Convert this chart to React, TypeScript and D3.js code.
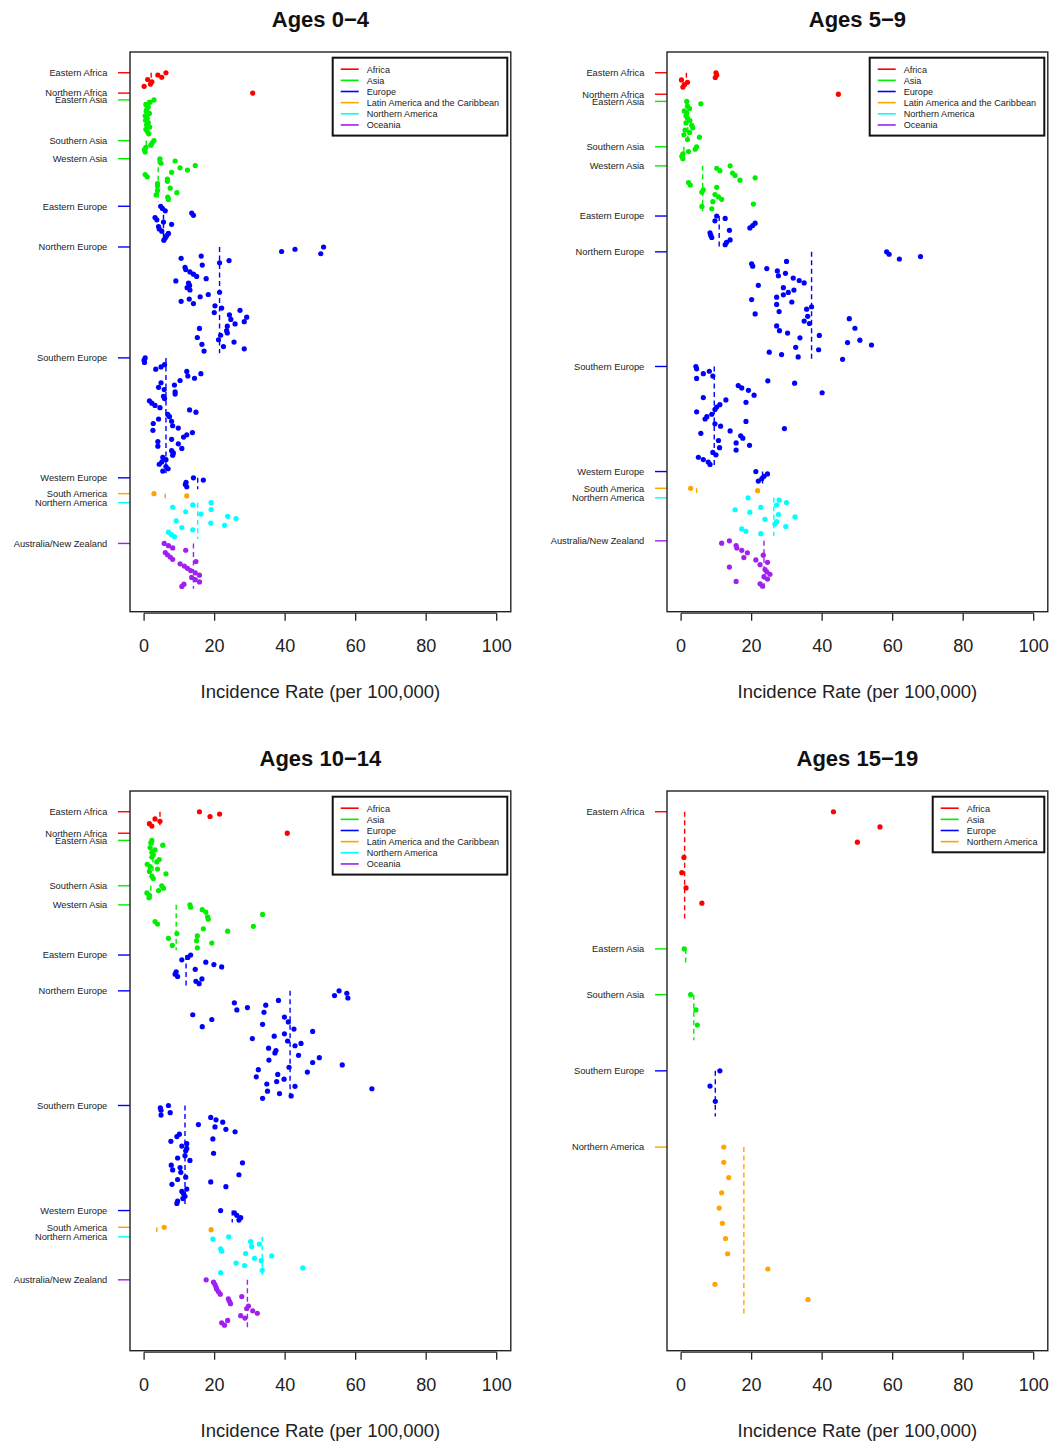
import * as d3 from "d3";

// regions in plotting order (top to bottom) and the continent each belongs to
const REGIONS = [
  "Eastern Africa", "Northern Africa", "Eastern Asia", "Southern Asia", "Western Asia",
  "Eastern Europe", "Northern Europe", "Southern Europe", "Western Europe",
  "South America", "Northern America", "Australia/New Zealand",
];
const CONTINENT_OF = [
  "Africa", "Africa", "Asia", "Asia", "Asia", "Europe", "Europe", "Europe", "Europe",
  "Latin America and the Caribbean", "Northern America", "Oceania",
];
const REGIONS_15_19 = ["Eastern Africa", "Eastern Asia", "Southern Asia", "Southern Europe", "Northern America"];
const CONTINENT_OF_15_19 = ["Africa", "Asia", "Asia", "Europe", "Northern America"];

const LEGEND_ALL = ["Africa", "Asia", "Europe", "Latin America and the Caribbean", "Northern America", "Oceania"];
const PALETTE_ALL = ["#FF0000", "#00EE00", "#0000FF", "#FFA500", "#00FFFF", "#A020F0"];
const LEGEND_15_19 = ["Africa", "Asia", "Europe", "Northern America"];
const PALETTE_15_19 = ["#FF0000", "#00EE00", "#0000FF", "#FFA500"];

const X_TICKS = [0, 20, 40, 60, 80, 100];

// incidence rate per registry, per region (top to bottom)
const rates0to4 = [
  [6.2, 3.9, 5.0, 1.0, 2.2, 1.8, 0.0],
  [30.8],
  [2.8, 1.7, 0.5, 1.2, 0.8, 0.6, 1.5, 0.3, 0.9, 0.4, 1.2, 0.7, 1.6, 0.5, 0.9, 1.3],
  [2.8, 2.3, 1.9, 0.5, 0.1, 0.3],
  [4.5, 8.8, 4.8, 14.5, 10.2, 12.3, 7.8, 0.3, 0.9, 6.6, 6.6, 3.8, 3.8, 7.4, 3.8, 9.3, 3.4, 6.7, 6.9],
  [4.7, 5.2, 6.0, 13.5, 14.0, 3.1, 3.6, 5.5, 7.8, 4.1, 4.3, 5.0, 6.9, 6.4, 6.0, 5.6],
  [50.9, 42.8, 39.0, 50.1, 16.2, 10.5, 24.1, 21.4, 16.5, 11.6, 11.8, 13.0, 14.0, 14.9, 17.6, 9.0,
    12.6, 12.9, 12.2, 13.0, 21.4, 18.2, 15.9, 12.8, 10.5, 14.0, 20.1, 22.0, 27.2, 19.9, 24.2, 29.1,
    24.6, 28.4, 25.8, 23.6, 15.7, 23.4, 23.6, 21.7, 15.1, 21.1, 25.5, 16.4, 22.5, 28.4, 17.0],
  [0.3, 0.0, 0.1, 5.8, 4.8, 3.3, 12.1, 16.1, 12.4, 14.3, 10.2, 4.8, 8.6, 4.1, 5.7, 8.8, 8.8, 5.5,
    5.8, 1.5, 2.2, 3.1, 4.5, 12.9, 14.7, 6.7, 7.2, 4.1, 7.8, 2.6, 8.1, 9.7, 2.5, 13.7, 12.1, 11.2,
    7.8, 3.9, 9.7, 3.9, 10.7, 7.8, 8.3, 8.1, 5.3, 6.2, 5.0, 4.3, 6.2, 6.8, 5.3],
  [14.0, 16.8, 11.9, 11.7, 12.1],
  [2.8, 12.1],
  [19.0, 13.8, 8.1, 19.0, 11.8, 16.1, 23.7, 26.1, 9.1, 18.9, 22.8, 10.7, 13.8, 6.9, 7.7, 8.6],
  [5.7, 6.9, 8.1, 11.8, 6.0, 6.6, 7.4, 8.1, 14.7, 10.2, 11.4, 12.3, 13.2, 14.5, 15.7, 13.5, 14.5, 15.7, 11.3, 10.7],
];
const pooled0to4 = [2.0, 30.8, 1.1, 0.6, 4.0, 5.5, 21.4, 6.2, 15.2, 6.0, 15.2, 14.0];

const rates5to9 = [
  [9.9, 10.1, 9.7, 0.1, 1.8, 0.9, 0.5],
  [44.6],
  [1.6, 5.6, 1.8, 2.4, 0.9, 1.6, 1.4, 1.8, 2.5, 1.4, 3.0, 3.3, 1.1, 2.4, 0.8, 5.2, 1.8],
  [4.4, 4.0, 2.1, 0.5, 0.2, 0.5],
  [13.9, 10.1, 11.0, 14.6, 15.3, 21.0, 16.7, 2.1, 2.6, 10.1, 6.3, 5.9, 9.6, 10.6, 11.5, 9.0, 20.5, 5.9, 8.7],
  [10.1, 12.5, 9.6, 21.0, 20.3, 19.5, 13.7, 8.2, 8.4, 8.7, 13.9, 12.9, 12.5],
  [58.3, 59.0, 67.9, 61.9, 29.9, 20.0, 20.3, 24.3, 27.3, 29.6, 27.6, 31.8, 33.5, 34.9, 21.9, 29.0,
    32.0, 30.4, 29.0, 27.1, 20.0, 31.4, 27.1, 37.0, 35.6, 27.8, 21.0, 35.9, 47.7, 34.9, 36.4, 27.1,
    49.3, 27.9, 30.2, 39.2, 33.7, 50.7, 47.2, 54.0, 32.5, 39.0, 25.0, 28.5, 33.2, 45.8],
  [4.2, 4.4, 8.0, 6.3, 9.0, 4.4, 24.6, 32.2, 16.2, 17.2, 19.1, 40.0, 20.7, 6.3, 12.7, 18.4, 11.0,
    10.1, 9.6, 4.4, 8.7, 7.3, 6.8, 18.4, 9.6, 11.2, 29.3, 13.9, 5.6, 16.9, 17.5, 10.6, 15.6, 19.4,
    10.9, 15.6, 9.0, 9.9, 4.9, 6.3, 7.7, 8.2],
  [21.2, 24.5, 23.5, 22.9, 21.9],
  [2.7, 21.7],
  [19.0, 27.8, 29.9, 27.1, 22.6, 15.3, 19.5, 27.6, 32.3, 23.8, 27.1, 26.6, 29.7, 17.2, 18.4, 22.6],
  [13.7, 11.5, 15.6, 15.8, 17.2, 18.8, 23.3, 17.8, 21.2, 24.5, 22.4, 13.7, 23.8, 24.3, 25.2, 23.5, 24.5, 15.6, 22.4, 23.1],
];
const pooled5to9 = [1.5, 44.6, 1.9, 0.8, 6.1, 10.8, 37.0, 9.4, 23.1, 4.4, 26.3, 23.5];

const rates10to14 = [
  [15.7, 21.4, 18.7, 3.1, 4.5, 1.5, 2.2],
  [40.6],
  [2.2, 1.9, 5.3, 1.7, 3.1, 2.2, 2.6, 2.2, 4.3, 3.6, 0.9, 1.7, 3.8, 1.5, 6.2, 2.2, 2.6],
  [5.0, 5.5, 4.1, 0.8, 1.5, 1.4],
  [13.0, 13.2, 16.5, 17.5, 33.6, 18.0, 18.2, 3.1, 3.8, 31.0, 16.8, 23.7, 9.3, 15.1, 6.9, 14.9, 19.2, 8.0, 15.1],
  [13.2, 12.4, 10.7, 17.5, 19.8, 22.0, 14.5, 9.1, 8.8, 9.5, 16.4, 14.7, 15.6],
  [55.3, 57.5, 54.0, 57.8, 38.1, 25.6, 34.5, 29.3, 26.3, 34.0, 13.8, 39.8, 19.2, 40.9, 33.6, 16.5,
    42.5, 47.8, 39.8, 36.9, 30.7, 40.7, 44.5, 42.8, 35.3, 37.4, 37.1, 43.8, 49.7, 35.4, 47.8, 56.2,
    41.1, 32.4, 46.3, 37.9, 31.8, 39.7, 37.6, 34.8, 42.8, 64.6, 35.0, 38.4, 41.7, 33.6],
  [6.9, 4.6, 4.8, 7.4, 4.8, 18.9, 20.4, 22.3, 15.4, 20.1, 23.2, 25.8, 10.0, 9.3, 19.5, 7.6, 12.1,
    10.7, 12.1, 11.8, 19.7, 11.6, 9.5, 13.0, 27.9, 7.7, 10.2, 8.1, 10.4, 26.9, 11.8, 9.5, 18.9, 7.9,
    23.2, 12.1, 10.7, 11.2, 11.6, 11.0, 9.5, 9.3],
  [21.7, 25.6, 26.3, 27.4, 26.9],
  [5.7, 19.0],
  [24.0, 19.5, 30.2, 32.7, 30.5, 21.7, 22.0, 28.8, 36.2, 31.3, 33.2, 26.1, 28.5, 45.0, 33.5, 21.7],
  [17.6, 19.7, 20.1, 20.4, 20.6, 21.1, 21.6, 27.7, 23.9, 24.2, 24.5, 29.6, 29.1, 30.8, 32.1, 27.4, 28.6, 23.7, 22.0, 22.8],
];
const pooled10to14 = [4.5, 40.6, 2.5, 1.9, 9.1, 11.9, 41.4, 11.6, 25.0, 3.6, 33.5, 29.3];

const rates15to19 = [
  [43.2, 56.4, 50.0, 0.8, 0.2, 1.4, 5.9],
  [0.9],
  [2.7, 4.2, 4.6],
  [11.0, 8.2, 9.7],
  [12.1, 12.1, 13.5, 11.5, 10.8, 11.7, 12.6, 13.2, 24.6, 9.6, 36.0],
];
const pooled15to19 = [1.0, 1.3, 3.6, 9.7, 17.8];

const panels = [
  { title: "Ages 0\u22124", regions: REGIONS, continents: CONTINENT_OF, rates: rates0to4, pooled: pooled0to4,
    legend: LEGEND_ALL, palette: PALETTE_ALL, legendWidth: 174.6, dx: 0, dy: 0 },
  { title: "Ages 5\u22129", regions: REGIONS, continents: CONTINENT_OF, rates: rates5to9, pooled: pooled5to9,
    legend: LEGEND_ALL, palette: PALETTE_ALL, legendWidth: 174.6, dx: 537, dy: 0 },
  { title: "Ages 10\u221214", regions: REGIONS, continents: CONTINENT_OF, rates: rates10to14, pooled: pooled10to14,
    legend: LEGEND_ALL, palette: PALETTE_ALL, legendWidth: 174.6, dx: 0, dy: 739 },
  { title: "Ages 15\u221219", regions: REGIONS_15_19, continents: CONTINENT_OF_15_19, rates: rates15to19, pooled: pooled15to19,
    legend: LEGEND_15_19, palette: PALETTE_15_19, legendWidth: 111.6, dx: 537, dy: 739 },
];

const LEFT = 130, RIGHT = 510.8, TOP = 52, BOTTOM = 611.7;

function Panel({ p }: { p: any }) {
  const x = d3.scaleLinear().domain([-4, 104]).range([LEFT, RIGHT]);
  const color = d3.scaleOrdinal<string, string>().domain(p.legend).range(p.palette);

  // each region takes one row per registry plus a gap of two rows
  const starts: number[] = [];
  let row = 0;
  p.rates.forEach((vals: number[]) => { starts.push(row); row += vals.length + 2; });
  const last = p.rates.length - 1;
  const span = starts[last] + p.rates[last].length + 1;
  const y = d3.scaleLinear().domain([-0.04 * span, 1.04 * span]).range([TOP, BOTTOM]);

  const legendLeft = RIGHT - 3.5 - p.legendWidth;
  const legendTop = TOP + 5.7;
  const legendH = p.legend.length * 11.15 + 11;

  return (
    <g transform={`translate(${p.dx},${p.dy})`}>
      <text x={(LEFT + RIGHT) / 2} y={27} textAnchor="middle" fontSize={22} fontWeight="bold" fill="#111">{p.title}</text>

      {/* region labels and coloured ticks */}
      {p.regions.map((name: string, i: number) => (
        <g key={name}>
          <line x1={LEFT - 12} x2={LEFT} y1={y(starts[i])} y2={y(starts[i])}
            stroke={color(p.continents[i])} strokeWidth={1.4} />
          <text x={LEFT - 22.7} y={y(starts[i]) + 3.3} textAnchor="end" fontSize={9.3} fill="#222">{name}</text>
        </g>
      ))}

      {/* pooled rate per region */}
      {p.pooled.map((v: number, i: number) => (
        <line key={"d" + i} x1={x(v)} x2={x(v)} y1={y(starts[i])} y2={y(starts[i] + p.rates[i].length)}
          stroke={color(p.continents[i])} strokeWidth={1.4} strokeDasharray="5,3.5" />
      ))}

      {p.rates.map((vals: number[], i: number) =>
        vals.map((v, j) => (
          <circle key={i + "-" + j} cx={x(v)} cy={y(starts[i] + j)} r={2.6} fill={color(p.continents[i])} />
        ))
      )}

      <rect x={LEFT} y={TOP} width={RIGHT - LEFT} height={BOTTOM - TOP} fill="none" stroke="#222" strokeWidth={1.4} />

      {/* x axis */}
      <line x1={x(0)} x2={x(100)} y1={BOTTOM + 1.5} y2={BOTTOM + 1.5} stroke="#222" strokeWidth={1.3} />
      {X_TICKS.map((t) => (
        <g key={t}>
          <line x1={x(t)} x2={x(t)} y1={BOTTOM + 1.5} y2={BOTTOM + 9} stroke="#222" strokeWidth={1.3} />
          <text x={x(t)} y={652} textAnchor="middle" fontSize={18} fill="#222">{t}</text>
        </g>
      ))}
      <text x={(LEFT + RIGHT) / 2} y={697.5} textAnchor="middle" fontSize={18.5} fill="#222">Incidence Rate (per 100,000)</text>

      {/* legend */}
      <rect x={legendLeft} y={legendTop} width={p.legendWidth} height={legendH} fill="#fff" stroke="#111" strokeWidth={2} />
      {p.legend.map((c: string, k: number) => {
        const cy = legendTop + 11.5 + k * 11.15;
        return (
          <g key={c}>
            <line x1={legendLeft + 8} x2={legendLeft + 26} y1={cy} y2={cy} stroke={color(c)} strokeWidth={1.6} />
            <text x={legendLeft + 34} y={cy + 3.4} fontSize={9.1} fill="#222">{c}</text>
          </g>
        );
      })}
    </g>
  );
}

export default function App() {
  return (
    <svg width={1064} height={1441} style={{ position: "absolute", left: 0, top: 0, background: "#fff" }}
      fontFamily="'Liberation Sans', Arial, Helvetica, sans-serif">
      {panels.map((p) => <Panel key={p.title} p={p} />)}
    </svg>
  );
}
